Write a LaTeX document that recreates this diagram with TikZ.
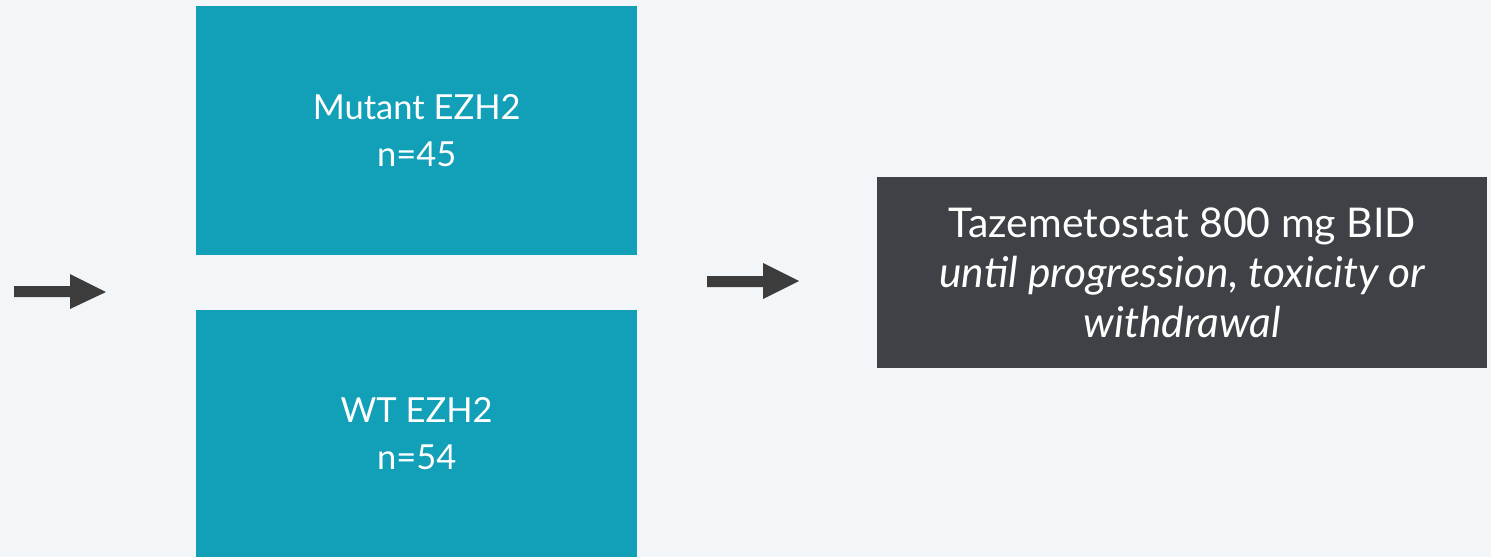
\documentclass[tikz,border=0pt]{standalone}
\usepackage{fontspec}
\setmainfont{Lato}
\definecolor{bg}{HTML}{F3F6F9}
\definecolor{teal}{HTML}{129FB8}
\definecolor{dark}{HTML}{3E4145}
\definecolor{arr}{HTML}{3C3C3C}
\begin{document}
\begin{tikzpicture}[x=1pt,y=-1pt,
  groupbox/.style={fill=teal,draw=none,minimum width=441pt,text=white,align=center,font=\fontsize{34.5}{47}\selectfont},
  armbox/.style={fill=dark,draw=none,minimum width=610pt,minimum height=191pt,text=white,align=center,font=\fontsize{41}{50}\selectfont},
  blockarrow/.style={fill=arr,draw=none}]
\fill[bg] (0,0) rectangle (1491,557);
\useasboundingbox (0,0) rectangle (1491,557);
\node[groupbox,minimum height=249pt,anchor=north west] (mut) at (196,6) {Mutant EZH2\\n=45};
\node[groupbox,minimum height=247pt,anchor=north west] (wt) at (196,310) {WT EZH2\\n=54};
\node[armbox,anchor=north west] (taz) at (877,177) {Tazemetostat 800 mg BID\\\fontsize{42.5}{50}\selectfont\itshape until progression, toxicity or\\\fontsize{42.5}{50}\selectfont\itshape withdrawal};
\fill[blockarrow] (14,286) -- (70,286) -- (70,274) -- (106,292) -- (70,309) -- (70,297) -- (14,297) -- cycle;
\fill[blockarrow] (707,276) -- (763,276) -- (763,263) -- (799,281) -- (763,299) -- (763,287) -- (707,287) -- cycle;
\end{tikzpicture}
\end{document}
